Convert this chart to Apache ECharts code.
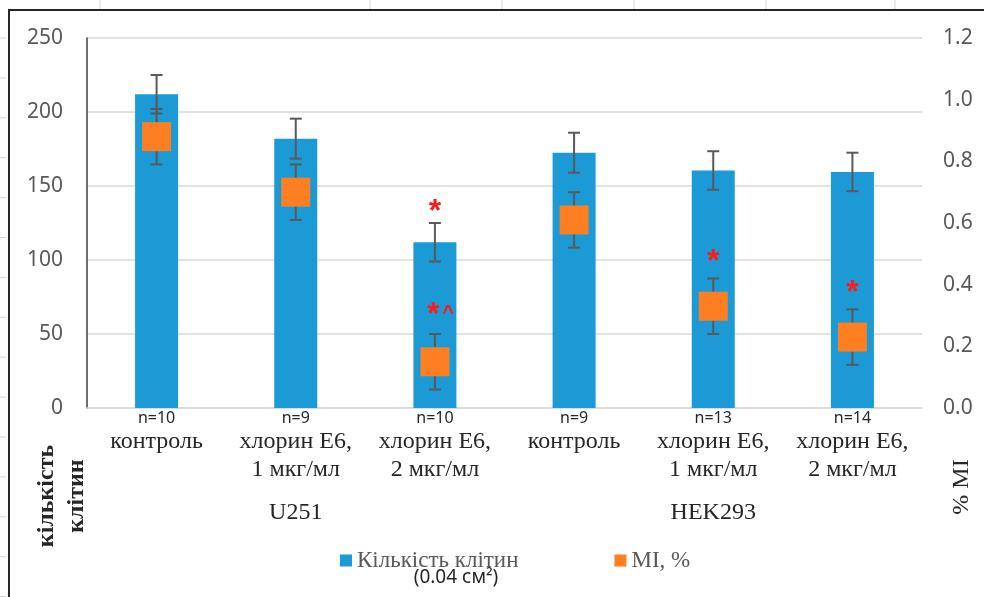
<!DOCTYPE html>
<html>
<head>
<meta charset="utf-8">
<script src="https://cdn.jsdelivr.net/npm/echarts@6/dist/echarts.min.js"></script>
<style>
html, body { margin: 0; padding: 0; background: #fff; }
#chart { width: 984px; height: 597px; }
</style>
</head>
<body>
<div id="chart"></div>
<script>
// дані
var categories = ['контроль', 'хлорин Е6,\n1 мкг/мл', 'хлорин Е6,\n2 мкг/мл', 'контроль', 'хлорин Е6,\n1 мкг/мл', 'хлорин Е6,\n2 мкг/мл'];
var sampleSizes = ['n=10', 'n=9', 'n=10', 'n=9', 'n=13', 'n=14'];
var groups = ['U251', 'HEK293'];
var cellCount = [212, 182, 112, 172.5, 160.5, 159.5];
var cellCountErr = [13, 13.5, 13, 13.5, 13, 13];
var miValues = [0.88, 0.70, 0.15, 0.61, 0.33, 0.23];
var miErr = [0.09, 0.09, 0.09, 0.09, 0.09, 0.09];
var countTicks = [0, 50, 100, 150, 200, 250];
var miTicks = [0, 0.2, 0.4, 0.6, 0.8, 1.0, 1.2];
// [категорія, рівень на лівій осі, позначка]
var marks = [[2, 137, '*'], [2, 67.5, '*^'], [4, 103, '*'], [5, 82, '*']];

var serif = 'Liberation Serif, serif';
var sans = 'Noto Sans';

var view = {};

// вертикальна планка похибки
view.errorBar = function (params, api) {
  var x = api.value(0), v = api.value(1), e = api.value(2);
  var top = api.coord([x, v + e]);
  var bot = api.coord([x, v - e]);
  var w = 6;
  var st = { stroke: '#595959', lineWidth: 2 };
  return {
    type: 'group',
    children: [
      { type: 'line', shape: { x1: top[0], y1: top[1], x2: bot[0], y2: bot[1] }, style: st },
      { type: 'line', shape: { x1: top[0] - w, y1: top[1], x2: top[0] + w, y2: top[1] }, style: st },
      { type: 'line', shape: { x1: bot[0] - w, y1: bot[1], x2: bot[0] + w, y2: bot[1] }, style: st }
    ]
  };
};

view.markText = function (params, api) {
  var p = api.coord([api.value(0), api.value(1)]);
  var t = marks[params.dataIndex][2];
  var txt = t.length > 1 ? '{s|*}{c|^}' : '{s|*}';
  return {
    type: 'text',
    x: t.length > 1 ? p[0] - 8 : p[0],
    y: p[1] + 7,
    style: {
      text: txt,
      align: t.length > 1 ? 'left' : 'center',
      verticalAlign: 'middle',
      rich: {
        s: { fontFamily: 'Liberation Sans', fontWeight: 'bold', fontSize: 32, fill: '#ff1a1a' },
        c: { fontFamily: 'Liberation Sans', fontWeight: 'bold', fontSize: 20, fill: '#ff1a1a', padding: [0, 0, 4, 3] }
      }
    }
  };
};

view.sheetLines = function () {
  var out = [];
  [100, 370, 502, 634, 766, 895].forEach(function (x) {
    out.push({ type: 'line', shape: { x1: x, y1: 0, x2: x, y2: 9 }, style: { stroke: '#d6d6d6', lineWidth: 1 } });
  });
  for (var y = 38; y < 597; y += 39.9) {
    out.push({ type: 'line', shape: { x1: 0, y1: y, x2: 6, y2: y }, style: { stroke: '#d6d6d6', lineWidth: 1 } });
  }
  return out;
};

view.loadChart = function () {
  var mychart = echarts.init(document.getElementById('chart'));
  var option = {
    animation: false,
    grid: { left: 87, right: 62, top: 38, bottom: 189 },
    legend: {
      left: 335,
      top: 544,
      itemWidth: 12,
      itemHeight: 12,
      itemGap: 96,
      data: [{ name: 'Кількість клітин', icon: 'rect' }, { name: 'MI, %', icon: 'rect' }],
      textStyle: { fontFamily: serif, fontSize: 23, color: '#595959' }
    },
    xAxis: [
      {
        type: 'category',
        data: categories,
        axisLine: { lineStyle: { color: '#d9d9d9', width: 1.5 } },
        axisTick: { show: false },
        axisLabel: {
          margin: 0,
          interval: 0,
          formatter: function (value, idx) {
            var lines = value.split('\n').map(function (l) { return '{t|' + l + '}'; });
            return '{n|' + sampleSizes[idx] + '}\n' + lines.join('\n');
          },
          rich: {
            n: { fontFamily: sans, fontSize: 16, color: '#262626', lineHeight: 20 },
            t: { fontFamily: serif, fontSize: 24, color: '#262626', lineHeight: 28 }
          }
        }
      },
      {
        type: 'category',
        data: groups,
        position: 'bottom',
        axisLine: { show: false },
        axisTick: { show: false },
        splitLine: { show: false },
        axisLabel: { margin: 93, fontFamily: serif, fontSize: 24, color: '#262626', lineHeight: 24 }
      }
    ],
    yAxis: [
      {
        type: 'value',
        min: countTicks[0],
        max: countTicks[countTicks.length - 1],
        interval: countTicks[1] - countTicks[0],
        axisLine: { show: true, lineStyle: { color: '#404040', width: 1.5 } },
        axisTick: { show: false },
        axisLabel: { margin: 24, fontFamily: sans, fontSize: 21, color: '#595959' },
        splitLine: { lineStyle: { color: '#d9d9d9', width: 1.5 } }
      },
      {
        type: 'value',
        min: miTicks[0],
        max: miTicks[miTicks.length - 1],
        interval: miTicks[1] - miTicks[0],
        axisLine: { show: false },
        axisTick: { show: false },
        splitLine: { show: false },
        axisLabel: {
          margin: 21,
          fontFamily: sans,
          fontSize: 21,
          color: '#595959',
          formatter: function (v) { return v.toFixed(1); }
        }
      }
    ],
    series: [
      {
        name: 'Кількість клітин',
        type: 'bar',
        data: cellCount,
        barWidth: 43,
        itemStyle: { color: '#1b9ad6' },
        z: 2
      },
      {
        name: 'countErr',
        type: 'custom',
        yAxisIndex: 0,
        renderItem: view.errorBar,
        encode: { x: 0, y: [1, 2] },
        data: cellCount.map(function (v, i) { return [i, v, cellCountErr[i]]; }),
        z: 3
      },
      {
        name: 'miErr',
        type: 'custom',
        yAxisIndex: 1,
        renderItem: view.errorBar,
        encode: { x: 0, y: [1, 2] },
        data: miValues.map(function (v, i) { return [i, v, miErr[i]]; }),
        z: 4
      },
      {
        name: 'MI, %',
        type: 'scatter',
        yAxisIndex: 1,
        symbol: 'rect',
        symbolSize: 29,
        itemStyle: { color: '#fd7f21', opacity: 1 },
        data: miValues.map(function (v, i) { return [i, v]; }),
        z: 5
      },
      {
        name: 'marks',
        type: 'custom',
        yAxisIndex: 0,
        renderItem: view.markText,
        encode: { x: 0, y: 1 },
        data: marks.map(function (m) { return [m[0], m[1]]; }),
        z: 6
      }
    ],
    graphic: view.sheetLines().concat([
      {
        type: 'rect',
        shape: { x: 9, y: 10, width: 1000, height: 620 },
        style: { fill: 'none', stroke: '#262626', lineWidth: 2 },
        silent: true
      },
      {
        type: 'text',
        x: 456, y: 578,
        style: { text: '(0.04 см²)', font: '19px Noto Sans', fill: '#262626', align: 'center', verticalAlign: 'middle' }
      },
      {
        type: 'text',
        x: 62, y: 496,
        rotation: Math.PI / 2,
        style: { text: 'кількість\nклітин', font: 'bold 24px Liberation Serif', fill: '#262626', align: 'center', verticalAlign: 'middle', lineHeight: 30 }
      },
      {
        type: 'text',
        x: 962, y: 487,
        rotation: Math.PI / 2,
        style: { text: '% MI', font: '24px Liberation Serif', fill: '#262626', align: 'center', verticalAlign: 'middle' }
      }
    ])
  };
  mychart.setOption(option);
};

view.loadChart();
</script>
</body>
</html>
